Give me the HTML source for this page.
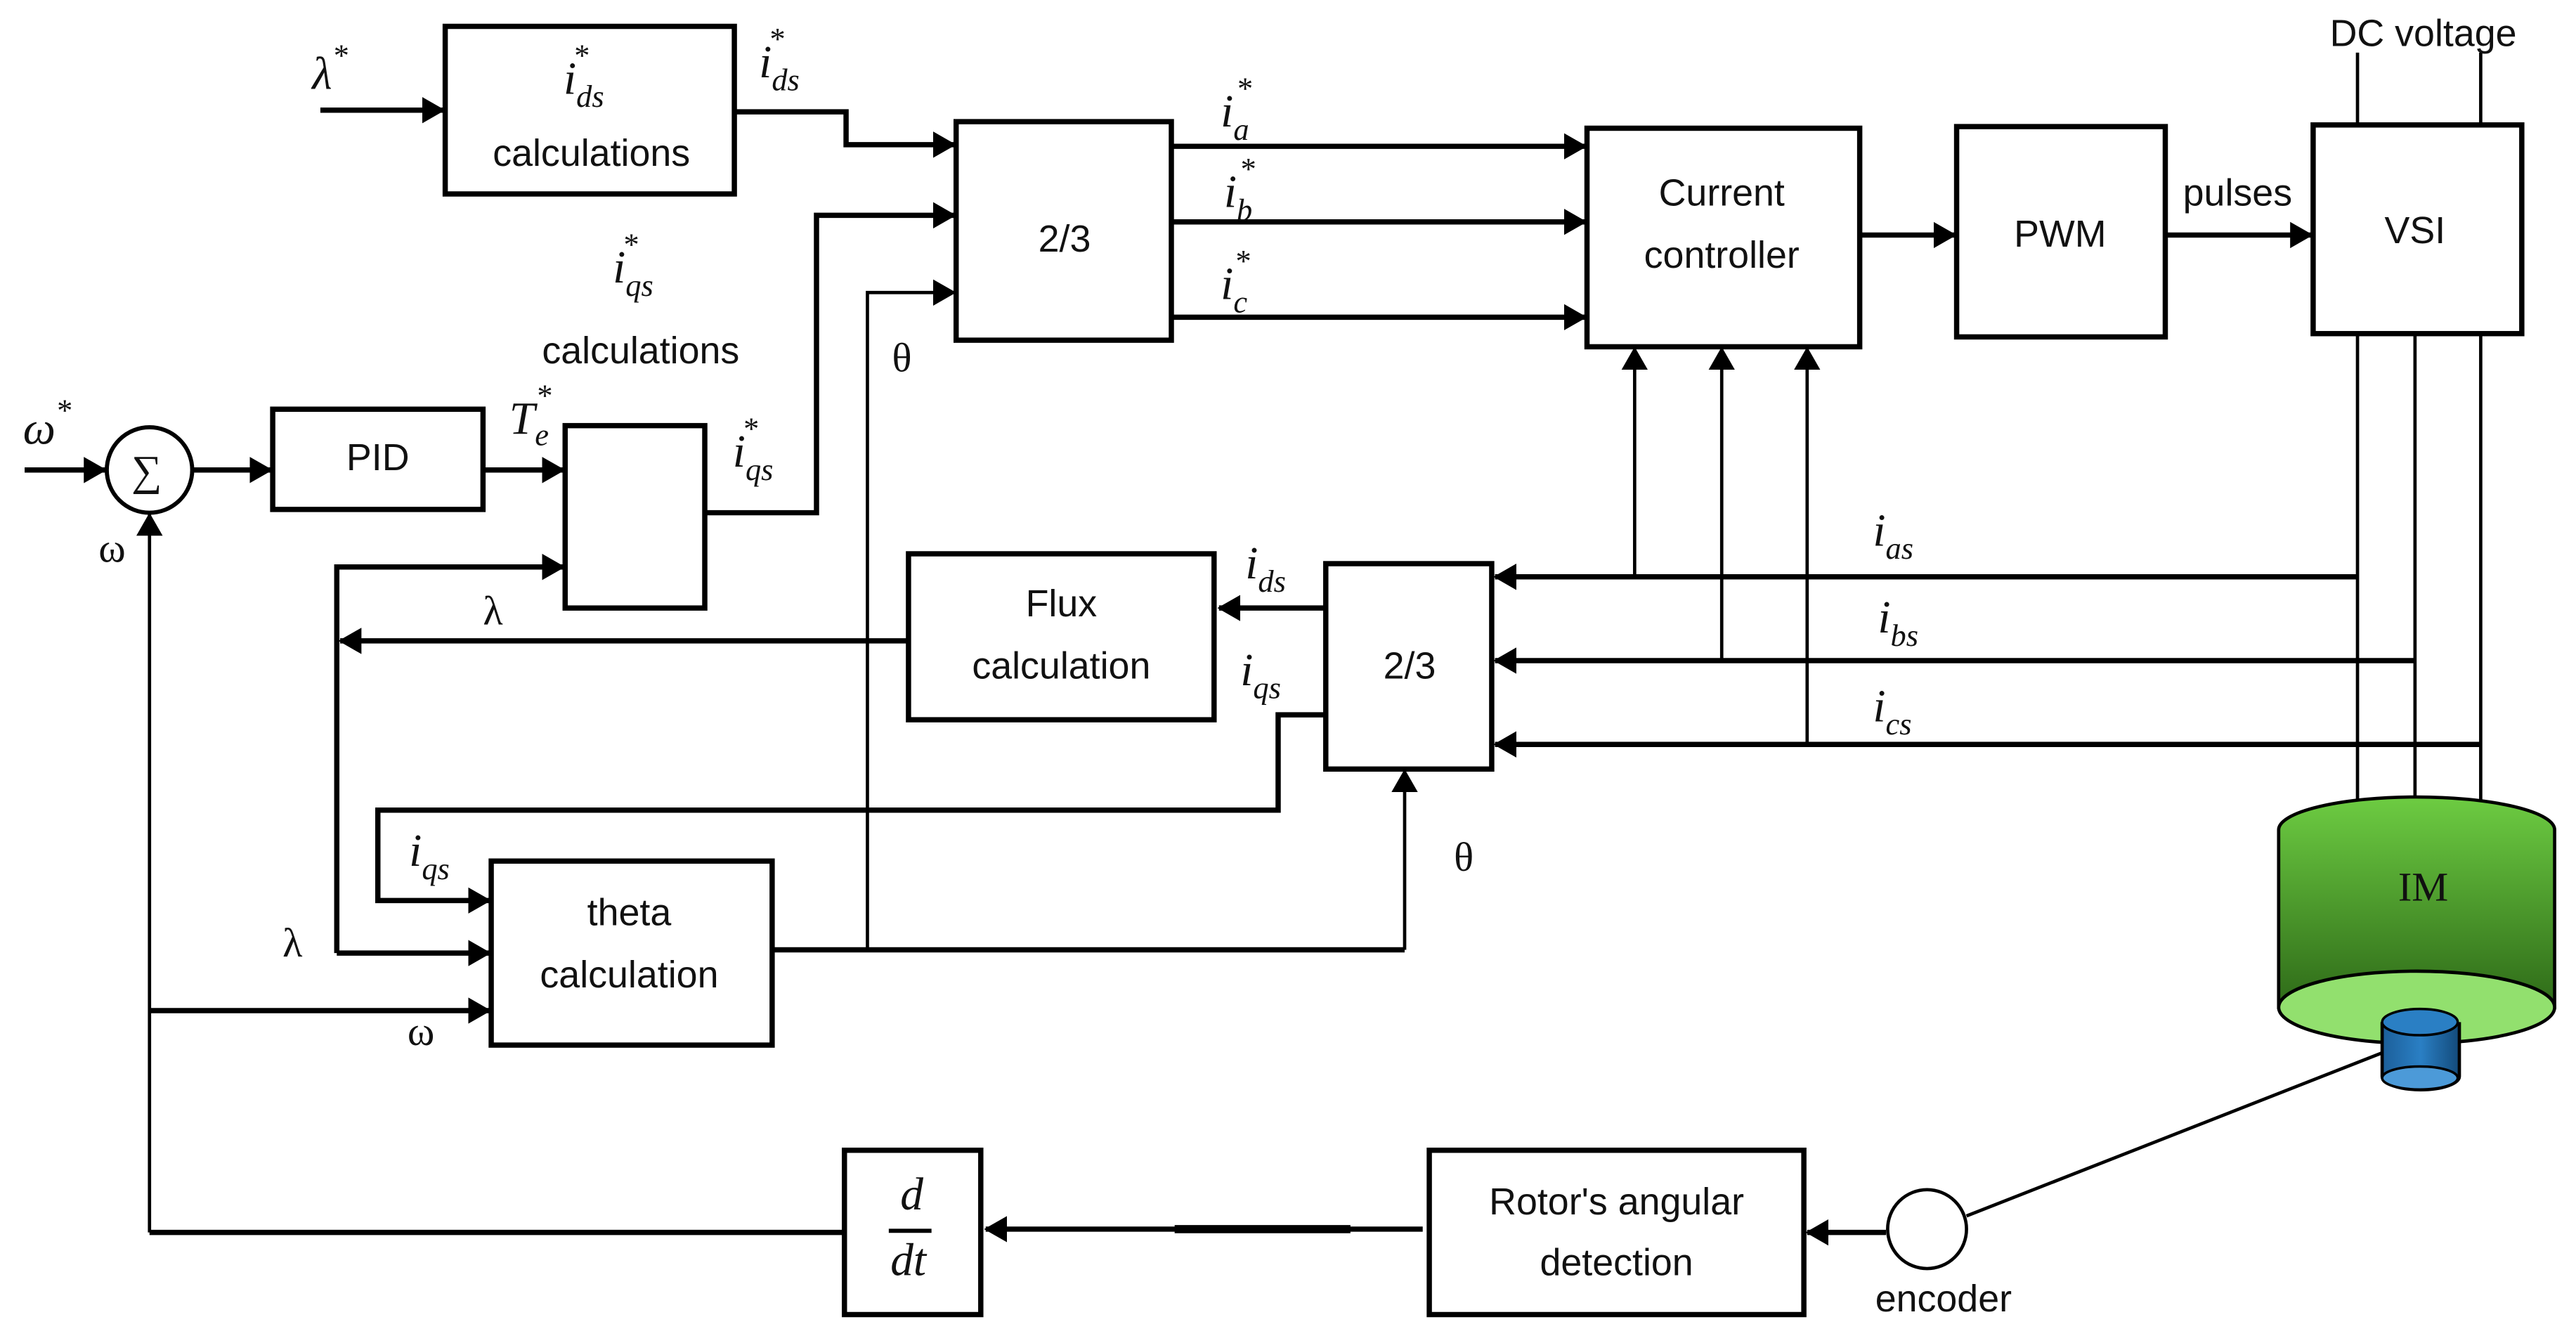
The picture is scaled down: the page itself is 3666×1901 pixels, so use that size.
<!DOCTYPE html>
<html><head><meta charset="utf-8"><style>
html,body{margin:0;padding:0;background:#fff;}
svg{display:block;}
.t{font-family:"Liberation Sans",sans-serif;font-size:23px;fill:#111;text-anchor:middle;}
.m{font-family:"Liberation Serif",serif;font-style:italic;font-size:28px;fill:#111;}
.s{font-size:19px;}
.g{font-family:"Liberation Serif",serif;font-size:25px;fill:#111;}
</style></head><body>
<svg width="3666" height="1901" viewBox="0 0 1568 813" xmlns="http://www.w3.org/2000/svg">
<defs>
<marker id="b" markerWidth="14" markerHeight="16" refX="13" refY="8" orient="auto" markerUnits="userSpaceOnUse" viewBox="0 0 14 16">
<path d="M0,0 L14,8 L0,16 z" fill="#000"/></marker>
<linearGradient id="gr" x1="0" y1="0" x2="0" y2="1"><stop offset="0" stop-color="#6dcc42"/><stop offset="1" stop-color="#2e6a18"/></linearGradient>
<linearGradient id="bl" x1="0" y1="0" x2="1" y2="0"><stop offset="0" stop-color="#1c5f9a"/><stop offset="0.5" stop-color="#2a7fc4"/><stop offset="1" stop-color="#134a7a"/></linearGradient>
</defs>
<g fill="none" stroke="#000" stroke-width="3.2">
<rect x="271" y="16" width="176" height="102"/>
<rect x="582" y="74" width="131" height="133"/>
<rect x="966" y="78" width="166" height="133"/>
<rect x="1191" y="77" width="127" height="128"/>
<rect x="1408" y="76" width="127" height="127"/>
<rect x="166" y="249" width="128" height="61"/>
<rect x="344" y="259" width="85" height="111"/>
<rect x="553" y="337" width="186" height="101"/>
<rect x="807" y="343" width="101" height="125"/>
<rect x="299" y="524" width="171" height="112"/>
<rect x="514" y="700" width="83" height="100"/>
<rect x="870" y="700" width="228" height="100"/>
<circle cx="91" cy="286" r="26" stroke-width="2.5"/>
<circle cx="1173" cy="748" r="24" stroke-width="2"/>
<path d="M195,67 H270" marker-end="url(#b)"/>
<path d="M447,68 H515 V88 H581" marker-end="url(#b)"/>
<path d="M429,312 H497 V131 H581" marker-end="url(#b)"/>
<path d="M713,89 H965" marker-end="url(#b)"/>
<path d="M713,135 H965" marker-end="url(#b)"/>
<path d="M713,193 H965" marker-end="url(#b)"/>
<path d="M1132,143 H1190" marker-end="url(#b)"/>
<path d="M1318,143 H1407" marker-end="url(#b)"/>
<path d="M15,286 H64" marker-end="url(#b)"/>
<path d="M117,286 H165" marker-end="url(#b)"/>
<path d="M294,286 H343" marker-end="url(#b)"/>
<path d="M205,580 V345 H343" marker-end="url(#b)"/>
<path d="M553,390 H207" marker-end="url(#b)"/>
<path d="M807,370 H742" marker-end="url(#b)"/>
<path d="M1435,351 H910" marker-end="url(#b)"/>
<path d="M1470,402 H910" marker-end="url(#b)"/>
<path d="M1510,453 H910" marker-end="url(#b)"/>
<path d="M807,435 H778 V493 H230 V548 H298" marker-end="url(#b)"/>
<path d="M205,580 H298" marker-end="url(#b)"/>
<path d="M91,615 H298" marker-end="url(#b)"/>
<path d="M470,578 H855"/>
<path d="M866,748 H600" marker-end="url(#b)"/>
<path d="M1148,750 H1100" marker-end="url(#b)"/>
<path d="M514,750 H91"/>
<path d="M715,748 H822" stroke-width="5"/>
</g>
<g fill="none" stroke="#000" stroke-width="2">
<path d="M528,578 V178 H581" marker-end="url(#b)"/>
<path d="M855,578 V469" marker-end="url(#b)"/>
<path d="M91,750 V313" marker-end="url(#b)"/>
<path d="M995,351 V212" marker-end="url(#b)"/>
<path d="M1048,402 V212" marker-end="url(#b)"/>
<path d="M1100,453 V212" marker-end="url(#b)"/>
<path d="M1435,32 V76 M1510,32 V76"/>
<path d="M1435,203 V490 M1470,203 V487 M1510,203 V490"/>
<path d="M1197,740 L1462,636"/>
<path d="M541,749 H567" stroke-width="2.5"/>
</g>
<path d="M1387,505 A84,20 0 0 1 1555,505 V613 H1387 Z" fill="url(#gr)" stroke="#000" stroke-width="2"/>
<ellipse cx="1471" cy="613" rx="84" ry="22" fill="#92e06e" stroke="#000" stroke-width="2"/>
<path d="M1450,622 V655 A23,8 0 0 0 1497,655 V622" fill="url(#bl)" stroke="#000" stroke-width="2"/>
<ellipse cx="1473" cy="656" rx="23" ry="7" fill="#4c9ad8" stroke="#000" stroke-width="1.5"/>
<ellipse cx="1473" cy="622" rx="23" ry="8" fill="#2a7fc4" stroke="#000" stroke-width="1.5"/>
<text x="1475" y="548" class="g" text-anchor="middle">IM</text>
<text class="t" x="360" y="101">calculations</text>
<text class="t" x="390" y="221">calculations</text>
<text class="t" x="648" y="153">2/3</text>
<text class="t" x="1048" y="125">Current</text>
<text class="t" x="1048" y="163">controller</text>
<text class="t" x="1254" y="150">PWM</text>
<text class="t" x="1470" y="148">VSI</text>
<text class="t" x="1475" y="28">DC voltage</text>
<text class="t" x="1362" y="125">pulses</text>
<text class="t" x="230" y="286">PID</text>
<text class="t" x="646" y="375">Flux</text>
<text class="t" x="646" y="413">calculation</text>
<text class="t" x="858" y="413">2/3</text>
<text class="t" x="383" y="563">theta</text>
<text class="t" x="383" y="601">calculation</text>
<text class="t" x="984" y="739">Rotor's angular</text>
<text class="t" x="984" y="776">detection</text>
<text class="t" x="1183" y="798">encoder</text>
<text class="m" x="190" y="54">λ<tspan class="s" dy="-14">*</tspan></text>
<text class="m" x="343" y="57">i<tspan class="s" dy="8">ds</tspan><tspan class="s" dx="-19" dy="-25">*</tspan></text>
<text class="m" x="462" y="47">i<tspan class="s" dy="8">ds</tspan><tspan class="s" dx="-19" dy="-25">*</tspan></text>
<text class="m" x="373" y="172">i<tspan class="s" dy="8">qs</tspan><tspan class="s" dx="-19" dy="-25">*</tspan></text>
<text class="m" x="446" y="284">i<tspan class="s" dy="8">qs</tspan><tspan class="s" dx="-19" dy="-25">*</tspan></text>
<text class="m" x="743" y="77">i<tspan class="s" dy="8">a</tspan><tspan class="s" dx="-8" dy="-25">*</tspan></text>
<text class="m" x="745" y="126">i<tspan class="s" dy="8">b</tspan><tspan class="s" dx="-8" dy="-25">*</tspan></text>
<text class="m" x="743" y="182">i<tspan class="s" dy="8">c</tspan><tspan class="s" dx="-8" dy="-25">*</tspan></text>
<text class="m" x="14" y="270">ω<tspan class="s" dy="-14">*</tspan></text>
<text class="m" x="310" y="264">T<tspan class="s" dy="7">e</tspan><tspan class="s" dx="-8" dy="-24">*</tspan></text>
<text class="m" x="758" y="352">i<tspan class="s" dy="8">ds</tspan></text>
<text class="m" x="755" y="417">i<tspan class="s" dy="8">qs</tspan></text>
<text class="m" x="249" y="527">i<tspan class="s" dy="8">qs</tspan></text>
<text class="m" x="1140" y="332">i<tspan class="s" dy="8">as</tspan></text>
<text class="m" x="1143" y="385">i<tspan class="s" dy="8">bs</tspan></text>
<text class="m" x="1140" y="439">i<tspan class="s" dy="8">cs</tspan></text>
<text class="m" x="548" y="736">d</text>
<text class="m" x="542" y="776">dt</text>
<text class="g" x="80" y="295" text-anchor="start" style="font-size:26px">∑</text>
<text class="g" x="60" y="342">ω</text>
<text class="g" x="248" y="636">ω</text>
<text class="g" x="294" y="380">λ</text>
<text class="g" x="172" y="582">λ</text>
<text class="g" x="543" y="226">θ</text>
<text class="g" x="885" y="530">θ</text>
</svg>
</body></html>
